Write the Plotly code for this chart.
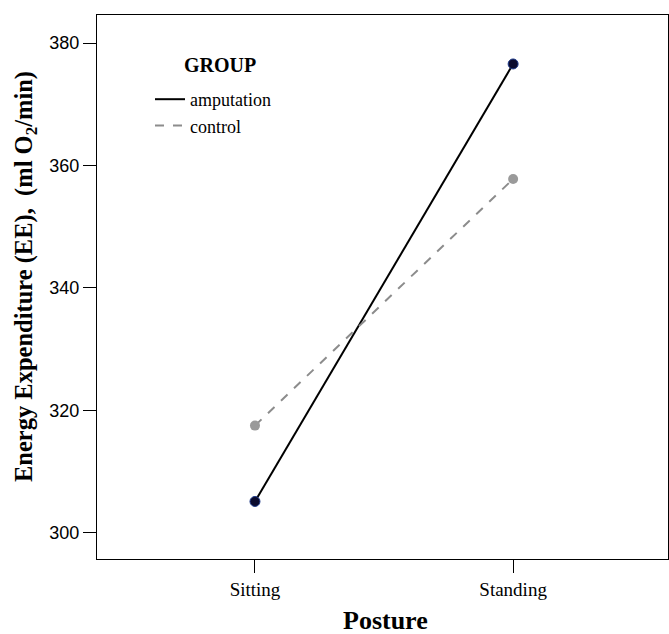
import plotly.graph_objects as go

postures = ["Sitting", "Standing"]
amputation = [305.1, 376.6]
control = [317.5, 357.8]
y_ticks = [300, 320, 340, 360, 380]

W, H = 669, 634
L, R, T, B = 97, 1, 15, 75
PW, PH = W - L - R, H - T - B


def px(xw):  # window x pixel -> paper x
    return (xw - L) / PW


def py(yw):  # window y pixel -> paper y
    return 1 - (yw - T) / PH


fig = go.Figure()
fig.add_trace(go.Scatter(
    x=postures, y=amputation, mode="lines", name="amputation",
    line=dict(color="black", width=2),
))
fig.add_trace(go.Scatter(
    x=postures, y=control, mode="lines", name="control",
    line=dict(color="#8c8c8c", width=2, dash="dash"),
))
fig.add_trace(go.Scatter(
    x=postures, y=amputation, mode="markers", showlegend=False,
    marker=dict(size=10, color="#0b0b2e", line=dict(color="#1f3a8a", width=1)),
))
fig.add_trace(go.Scatter(
    x=postures, y=control, mode="markers", showlegend=False,
    marker=dict(size=10, color="#9a9a9a"),
))

fig.update_layout(
    width=W, height=H,
    margin=dict(l=L, r=R, t=T, b=B),
    paper_bgcolor="white", plot_bgcolor="white",
    font=dict(family="Liberation Serif", color="black", size=18),
    showlegend=True,
    legend=dict(x=px(150), y=py(81), xanchor="left", yanchor="top",
                bgcolor="rgba(0,0,0,0)", font=dict(size=18, family="Liberation Serif"),
                tracegroupgap=0, borderwidth=0),
    xaxis=dict(
        type="category",
        range=[-0.612, 1.6], tickmode="array", tickvals=postures, ticktext=postures,
        showgrid=False, zeroline=False, showline=True, linecolor="black", linewidth=1,
        mirror=True, ticks="outside", ticklen=13, tickcolor="black",
        tickfont=dict(size=19, family="Liberation Serif"), automargin=False,
    ),
    yaxis=dict(
        range=[295.7, 384.6], tickmode="array", tickvals=y_ticks,
        ticktext=[str(v) for v in y_ticks],
        showgrid=False, zeroline=False, showline=True, linecolor="black", linewidth=1,
        mirror=True, ticks="outside", ticklen=13, tickcolor="black",
        tickfont=dict(size=18, family="Liberation Sans"), automargin=False,
    ),
    annotations=[
        dict(text="<b>GROUP</b>", xref="paper", yref="paper",
             x=px(220), y=py(65), xanchor="center", yanchor="middle",
             showarrow=False, font=dict(size=20)),
        dict(text="<b>Posture</b>", xref="paper", yref="paper",
             x=px(385), y=py(620), xanchor="center", yanchor="middle",
             showarrow=False, font=dict(size=26)),
        dict(text="<b>Energy Expenditure (EE),  (ml O<sub>2</sub>/min)</b>",
             xref="paper", yref="paper", textangle=-90,
             x=px(25), y=py(277), xanchor="center", yanchor="middle",
             showarrow=False, font=dict(size=24.5)),
    ],
)

fig.write_html(
    "out.html",
    config={"displayModeBar": False},
    post_script="document.body.style.margin='0';document.body.style.overflow='hidden';",
)
